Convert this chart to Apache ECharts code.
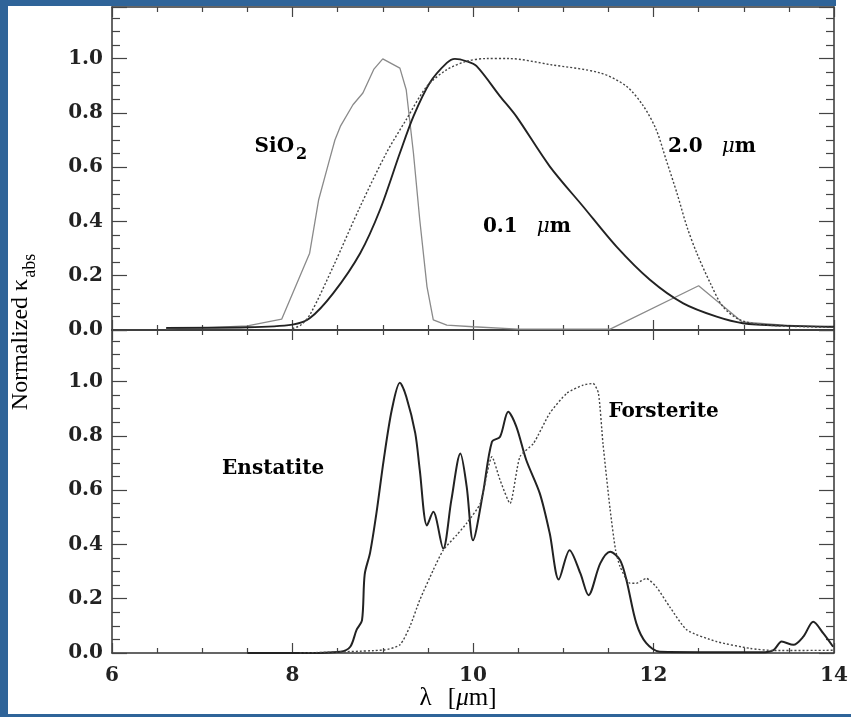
<!DOCTYPE html>
<html>
<head>
<meta charset="utf-8">
<script src="https://cdn.jsdelivr.net/npm/echarts@6/dist/echarts.min.js"></script>
<style>
html,body{margin:0;padding:0;background:#fff;}
#c{width:851px;height:717px;}
</style>
</head>
<body>
<div id="c"></div>
<script>
// ---- data (wavelength in micron, normalized kappa_abs) ----
const xTicks = [6, 8, 10, 12, 14];
const yTicks = [0.0, 0.2, 0.4, 0.6, 0.8, 1.0];

const sio2 = [[6.6,0.005],[7.0,0.008],[7.5,0.015],[7.88,0.04],[8.19,0.283],[8.29,0.48],[8.40,0.615],[8.47,0.70],[8.53,0.75],[8.67,0.83],[8.78,0.873],[8.90,0.96],[9.00,0.999],[9.19,0.965],[9.26,0.885],[9.34,0.652],[9.41,0.406],[9.49,0.16],[9.56,0.037],[9.71,0.018],[10.0,0.012],[10.5,0.003],[11.52,0.003],[12.50,0.163],[12.98,0.03],[13.44,0.018],[14.0,0.01]];

const grain01 = [[6.6,0.008],[7.5,0.01],[8.0,0.02],[8.19,0.043],[8.45,0.135],[8.75,0.283],[8.97,0.443],[9.19,0.652],[9.34,0.787],[9.52,0.91],[9.71,0.984],[9.80,0.999],[9.93,0.99],[10.04,0.972],[10.30,0.861],[10.48,0.787],[10.85,0.603],[11.22,0.455],[11.59,0.307],[11.96,0.185],[12.33,0.098],[12.70,0.049],[12.99,0.025],[13.44,0.016],[14.0,0.012]];

const grain20 = [[8.0,0.005],[8.1,0.02],[8.2,0.06],[8.45,0.233],[8.75,0.455],[9.04,0.652],[9.26,0.775],[9.49,0.898],[9.71,0.959],[9.93,0.99],[10.15,1.0],[10.4,1.0],[10.85,0.978],[11.41,0.947],[11.70,0.898],[11.89,0.824],[12.03,0.738],[12.14,0.627],[12.26,0.504],[12.37,0.381],[12.48,0.283],[12.63,0.172],[12.77,0.086],[12.96,0.037],[13.25,0.018],[14.0,0.01]];

const enstatite = [[7.5,0.0],[8.08,0.0],[8.53,0.005],[8.64,0.023],[8.71,0.085],[8.77,0.12],[8.80,0.29],[8.86,0.37],[8.93,0.515],[9.01,0.71],[9.10,0.895],[9.19,0.996],[9.26,0.945],[9.36,0.81],[9.41,0.675],[9.49,0.47],[9.56,0.52],[9.67,0.385],[9.76,0.563],[9.86,0.735],[9.93,0.613],[10.00,0.415],[10.11,0.588],[10.21,0.778],[10.30,0.797],[10.39,0.889],[10.48,0.834],[10.59,0.711],[10.74,0.588],[10.85,0.441],[10.95,0.271],[11.07,0.379],[11.19,0.293],[11.28,0.213],[11.41,0.33],[11.52,0.373],[11.63,0.342],[11.70,0.269],[11.81,0.109],[11.92,0.036],[12.07,0.005],[13.2,0.003],[13.33,0.011],[13.42,0.042],[13.55,0.03],[13.66,0.06],[13.77,0.115],[13.88,0.073],[13.99,0.023]];

const forsterite = [[8.08,0.0],[9.01,0.011],[9.19,0.03],[9.30,0.097],[9.41,0.195],[9.56,0.306],[9.67,0.379],[9.82,0.435],[9.93,0.478],[10.08,0.551],[10.21,0.723],[10.30,0.637],[10.41,0.551],[10.52,0.723],[10.67,0.772],[10.85,0.883],[11.04,0.957],[11.22,0.987],[11.33,0.993],[11.39,0.957],[11.44,0.772],[11.52,0.527],[11.58,0.379],[11.63,0.318],[11.74,0.257],[11.81,0.257],[11.92,0.275],[12.03,0.244],[12.18,0.17],[12.37,0.085],[12.70,0.042],[13.07,0.017],[13.33,0.009],[14.0,0.01]];

// annotation anchors [panel, x, y, text]
const labels = [
  [0, 7.58, 0.67, '{a|SiO}{s|2}'],
  [0, 12.16, 0.67, '{g|2.0 }{m|μ}{a|m}'],
  [0, 10.11, 0.376, '{g|0.1 }{m|μ}{a|m}'],
  [1, 7.22, 0.674, '{a|Enstatite}'],
  [1, 11.50, 0.884, '{a|Forsterite}']
];

const FONT = 'DejaVu Serif';
const axisColor = '#333';

function xAx(grid, pos, showLabel) {
  return {
    type: 'value', gridIndex: grid, position: pos,
    min: xTicks[0], max: xTicks[xTicks.length-1], interval: 2,
    axisLine: {show: true, onZero: false, lineStyle: {color: axisColor, width: 1.5}},
    axisTick: {show: true, inside: true, length: 10, lineStyle: {color: '#444', width: 1.2}},
    minorTick: {show: true, splitNumber: 4, length: 5, lineStyle: {color: '#444', width: 1.2}},
    splitLine: {show: false},
    axisLabel: {show: showLabel, color: '#222', fontFamily: FONT, fontWeight: 'bold', fontSize: 20, margin: 13}
  };
}
function yAx(grid, pos, showLabel) {
  return {
    type: 'value', gridIndex: grid, position: pos,
    min: 0, max: 1.19, interval: 0.2,
    axisLine: {show: true, onZero: false, lineStyle: {color: axisColor, width: 1.5}},
    axisTick: {show: true, inside: true, length: 15, lineStyle: {color: '#444', width: 1.2}},
    minorTick: {show: true, splitNumber: 4, length: 8, lineStyle: {color: '#444', width: 1.2}},
    splitLine: {show: false},
    axisLabel: {show: showLabel, color: '#222', fontFamily: FONT, fontWeight: 'bold', fontSize: 20, margin: 9,
      formatter: v => (v > 1.01 ? '' : v.toFixed(1)), showMaxLabel: false}
  };
}

const chart = echarts.init(document.getElementById('c'), null, {renderer: 'canvas'});
const option = {
  animation: false,
  backgroundColor: '#fff',
  grid: [
    {left: 112, top: 7, width: 722, height: 323},
    {left: 112, top: 330, width: 722, height: 323}
  ],
  xAxis: [xAx(0, 'bottom', false), xAx(0, 'top', false), xAx(1, 'bottom', true), xAx(1, 'top', false)],
  yAxis: [yAx(0, 'left', true), yAx(0, 'right', false), yAx(1, 'left', true), yAx(1, 'right', false)],
  series: [
    {type: 'line', xAxisIndex: 0, yAxisIndex: 0, data: sio2, showSymbol: false, smooth: false,
      lineStyle: {color: '#8a8a8a', width: 1.3}},
    {type: 'line', xAxisIndex: 0, yAxisIndex: 0, data: grain01, showSymbol: false, smooth: 0.3,
      lineStyle: {color: '#222', width: 1.9}},
    {type: 'line', xAxisIndex: 0, yAxisIndex: 0, data: grain20, showSymbol: false, smooth: 0.3,
      lineStyle: {color: '#444', width: 1.4, type: [2, 2]}},
    {type: 'line', xAxisIndex: 2, yAxisIndex: 2, data: enstatite, showSymbol: false, smooth: 0.3,
      lineStyle: {color: '#222', width: 2}},
    {type: 'line', xAxisIndex: 2, yAxisIndex: 2, data: forsterite, showSymbol: false, smooth: 0.2,
      lineStyle: {color: '#444', width: 1.4, type: [2, 2]}}
  ]
};
chart.setOption(option);

const rich = {
  a: {fontFamily: FONT, fontWeight: 'bold', fontSize: 20, color: '#222', lineHeight: 22, verticalAlign: 'top'},
  g: {fontFamily: FONT, fontWeight: 'bold', fontSize: 20, color: '#222', lineHeight: 22, verticalAlign: 'top', padding: [0, 12, 0, 0]},
  s: {fontFamily: FONT, fontWeight: 'bold', fontSize: 16, color: '#222', lineHeight: 16, verticalAlign: 'top', padding: [10, 0, 0, 2]},
  m: {fontFamily: FONT, fontStyle: 'italic', fontSize: 20, color: '#222', lineHeight: 22, verticalAlign: 'top'}
};

const graphics = labels.map(l => {
  const p = chart.convertToPixel({gridIndex: l[0]}, [l[1], l[2]]);
  return {type: 'text', x: p[0], y: p[1], z: 50,
    style: {text: l[3], rich: rich, align: 'left', verticalAlign: 'middle'}};
});

graphics.push({
  type: 'text', x: 22, y: 332, rotation: Math.PI / 2, z: 50,
  style: {
    text: '{a|Normalized κ}{b|abs}', align: 'center', verticalAlign: 'middle',
    rich: {
      a: {fontFamily: 'Liberation Serif', fontSize: 24, color: '#222', lineHeight: 26, verticalAlign: 'top'},
      b: {fontFamily: 'Liberation Serif', fontSize: 18, color: '#222', lineHeight: 18, verticalAlign: 'top', padding: [12, 0, 0, 1]}
    }
  }
});
graphics.push({
  type: 'text', x: 458, y: 700, z: 50,
  style: {
    text: '{l|λ }{a|[}{m|μ}{a|m]}', align: 'center', verticalAlign: 'middle',
    rich: {
      l: {fontFamily: 'Liberation Serif', fontSize: 25, color: '#222', lineHeight: 28, verticalAlign: 'top', padding: [0, 10, 0, 0]},
      a: {fontFamily: 'Liberation Serif', fontSize: 25, color: '#222', lineHeight: 28, verticalAlign: 'top'},
      m: {fontFamily: 'Liberation Serif', fontStyle: 'italic', fontSize: 25, color: '#222', lineHeight: 28, verticalAlign: 'top'}
    }
  }
});
// slide frame (blue border)
const blue = '#2f6499';
graphics.push({type: 'rect', z: 100, shape: {x: 0, y: 0, width: 836, height: 6}, style: {fill: blue}});
graphics.push({type: 'rect', z: 100, shape: {x: 0, y: 0, width: 8, height: 717}, style: {fill: blue}});
graphics.push({type: 'rect', z: 100, shape: {x: 0, y: 714, width: 851, height: 3}, style: {fill: blue}});

chart.setOption({graphic: graphics});
</script>
</body>
</html>
